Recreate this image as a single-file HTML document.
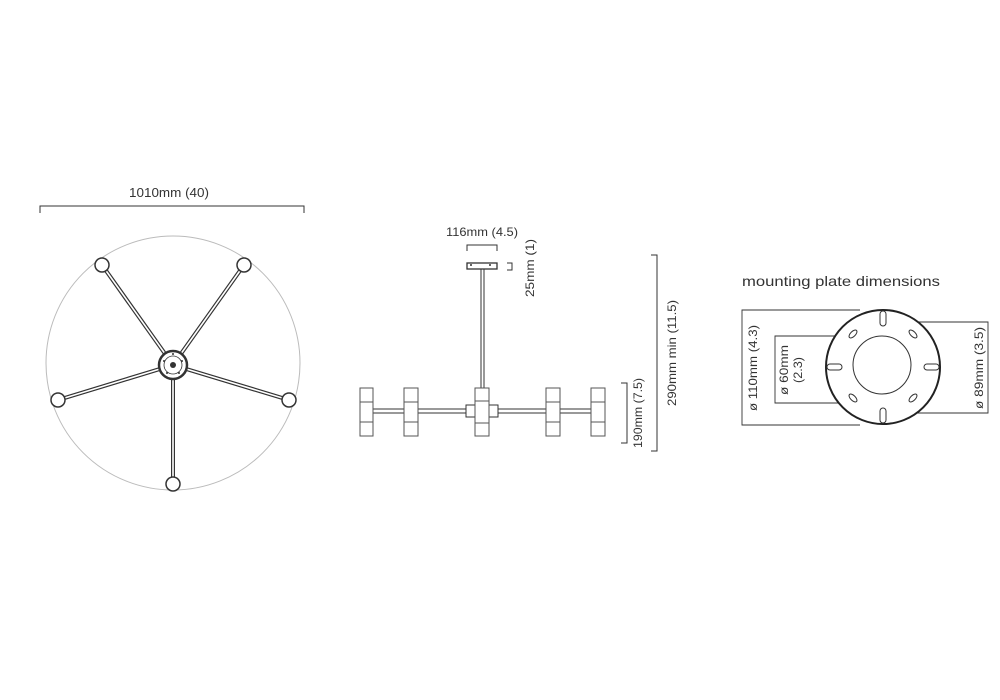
<!DOCTYPE html>
<html><head><meta charset="utf-8"><style>
html,body{margin:0;padding:0;background:#fff;}
svg{display:block;}
text{font-family:"Liberation Sans",sans-serif;fill:#333;}
</style></head><body>
<svg width="1000" height="700" viewBox="0 0 1000 700" xmlns="http://www.w3.org/2000/svg">
<!-- LEFT TOP VIEW -->
<text x="169" y="197" font-size="13" text-anchor="middle" textLength="80" lengthAdjust="spacingAndGlyphs">1010mm (40)</text>
<polyline points="40,213 40,206 304,206 304,213" fill="none" stroke="#333" stroke-width="1"/>
<circle cx="173" cy="363" r="127" fill="none" stroke="#bbb" stroke-width="1"/>
<g stroke-linecap="butt">
<g stroke="#333" stroke-width="4">
<line x1="173" y1="365" x2="102" y2="265"/>
<line x1="173" y1="365" x2="244" y2="265"/>
<line x1="173" y1="365" x2="58" y2="400"/>
<line x1="173" y1="365" x2="289" y2="400"/>
<line x1="173" y1="365" x2="173" y2="484"/>
</g>
<g stroke="#fff" stroke-width="1.6">
<line x1="173" y1="365" x2="102" y2="265"/>
<line x1="173" y1="365" x2="244" y2="265"/>
<line x1="173" y1="365" x2="58" y2="400"/>
<line x1="173" y1="365" x2="289" y2="400"/>
<line x1="173" y1="365" x2="173" y2="484"/>
</g>
</g>
<g fill="#fff" stroke="#333" stroke-width="1.5">
<circle cx="102" cy="265" r="7"/>
<circle cx="244" cy="265" r="7"/>
<circle cx="58" cy="400" r="7"/>
<circle cx="289" cy="400" r="7"/>
<circle cx="173" cy="484" r="7"/>
<circle cx="173" cy="365" r="14" stroke-width="2.5"/>
<circle cx="173" cy="365" r="9" stroke-width="0.8"/>
</g>
<circle cx="173" cy="365" r="3" fill="#333"/>
<g fill="#333"><circle cx="173" cy="354" r="1"/><circle cx="182" cy="361" r="1"/><circle cx="179" cy="373" r="1"/><circle cx="167" cy="373" r="1"/><circle cx="164" cy="361" r="1"/></g>

<!-- MIDDLE SIDE VIEW -->
<text x="482" y="236" font-size="12" text-anchor="middle" textLength="72" lengthAdjust="spacingAndGlyphs">116mm (4.5)</text>
<polyline points="467,251 467,245 497,245 497,251" fill="none" stroke="#333" stroke-width="1"/>
<rect x="467" y="263" width="30" height="6" fill="#fff" stroke="#333" stroke-width="1.3"/>
<circle cx="471" cy="265" r="1" fill="#333"/><circle cx="490" cy="265" r="1" fill="#333"/>
<polyline points="507,263 512,263 512,270 507,270" fill="none" stroke="#333" stroke-width="1"/>
<text transform="translate(534,268) rotate(-90)" font-size="12" text-anchor="middle" textLength="58" lengthAdjust="spacingAndGlyphs">25mm (1)</text>
<line x1="481" y1="269" x2="481" y2="388" stroke="#333" stroke-width="1"/>
<line x1="484" y1="269" x2="484" y2="388" stroke="#333" stroke-width="1"/>
<rect x="373" y="409" width="218" height="4" fill="#fff" stroke="#333" stroke-width="1"/>
<rect x="466" y="405" width="32" height="12" fill="#fff" stroke="#333" stroke-width="1"/>
<g fill="#fff" stroke="#555" stroke-width="1">
<g><rect x="360" y="388" width="13" height="48"/><line x1="360" y1="402" x2="373" y2="402"/><line x1="360" y1="422" x2="373" y2="422"/></g>
<g><rect x="404" y="388" width="14" height="48"/><line x1="404" y1="402" x2="418" y2="402"/><line x1="404" y1="422" x2="418" y2="422"/></g>
<g><rect x="475" y="388" width="14" height="48"/><line x1="475" y1="401" x2="489" y2="401"/><line x1="475" y1="423" x2="489" y2="423"/></g>
<g><rect x="546" y="388" width="14" height="48"/><line x1="546" y1="402" x2="560" y2="402"/><line x1="546" y1="422" x2="560" y2="422"/></g>
<g><rect x="591" y="388" width="14" height="48"/><line x1="591" y1="402" x2="605" y2="402"/><line x1="591" y1="422" x2="605" y2="422"/></g>
</g>
<polyline points="621,383 627,383 627,443 621,443" fill="none" stroke="#333" stroke-width="1"/>
<text transform="translate(642,413) rotate(-90)" font-size="12" text-anchor="middle" textLength="70" lengthAdjust="spacingAndGlyphs">190mm (7.5)</text>
<polyline points="651,255 657,255 657,451 651,451" fill="none" stroke="#333" stroke-width="1"/>
<text transform="translate(676,353) rotate(-90)" font-size="12" text-anchor="middle" textLength="106" lengthAdjust="spacingAndGlyphs">290mm min (11.5)</text>

<!-- RIGHT MOUNTING PLATE -->
<text x="742" y="286" font-size="14" textLength="198" lengthAdjust="spacingAndGlyphs">mounting plate dimensions</text>
<g fill="none" stroke="#333" stroke-width="0.9">
<polyline points="860,310 742,310 742,425 860,425"/>
<polyline points="866,336 775,336 775,403 866,403"/>
<polyline points="893,322 988,322 988,413 893,413"/>
</g>
<text transform="translate(757,368) rotate(-90)" font-size="12" text-anchor="middle" textLength="86" lengthAdjust="spacingAndGlyphs">ø 110mm (4.3)</text>
<text transform="translate(788,370) rotate(-90)" font-size="12" text-anchor="middle" textLength="50" lengthAdjust="spacingAndGlyphs">ø 60mm</text>
<text transform="translate(802,370) rotate(-90)" font-size="12" text-anchor="middle" textLength="26" lengthAdjust="spacingAndGlyphs">(2.3)</text>
<text transform="translate(983,368) rotate(-90)" font-size="12" text-anchor="middle" textLength="82" lengthAdjust="spacingAndGlyphs">ø 89mm (3.5)</text>
<circle cx="883" cy="367" r="57" fill="#fff" stroke="#222" stroke-width="2"/>
<circle cx="882" cy="365" r="29" fill="none" stroke="#333" stroke-width="1"/>
<g fill="#fff" stroke="#333" stroke-width="1">
<rect x="880" y="311" width="6" height="15" rx="3"/>
<rect x="880" y="408" width="6" height="15" rx="3"/>
<rect x="827" y="364" width="15" height="6" rx="3"/>
<rect x="924" y="364" width="15" height="6" rx="3"/>
<ellipse cx="853" cy="334" rx="2.5" ry="5" transform="rotate(45 853 334)"/>
<ellipse cx="913" cy="334" rx="2.5" ry="5" transform="rotate(-45 913 334)"/>
<ellipse cx="853" cy="398" rx="2.5" ry="5" transform="rotate(-45 853 398)"/>
<ellipse cx="913" cy="398" rx="2.5" ry="5" transform="rotate(45 913 398)"/>
</g>
</svg>
</body></html>
